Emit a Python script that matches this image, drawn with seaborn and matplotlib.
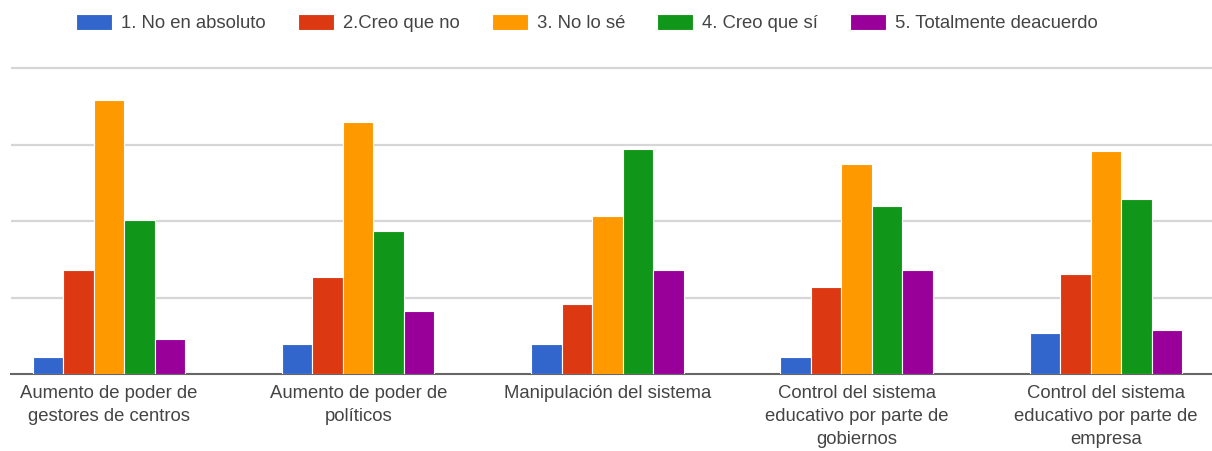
import matplotlib
matplotlib.use("Agg")
import matplotlib.pyplot as plt
import seaborn as sns
import pandas as pd

# Survey items (x categories)
categorias = [
    "Aumento de poder de\ngestores de centros",
    "Aumento de poder de\npolíticos",
    "Manipulación del sistema",
    "Control del sistema\neducativo por parte de\ngobiernos",
    "Control del sistema\neducativo por parte de\nempresa",
]

# Answer options (legend)
respuestas = [
    "1. No en absoluto",
    "2.Creo que no",
    "3. No lo sé",
    "4. Creo que sí",
    "5. Totalmente deacuerdo",
]

# Responses per answer option, one value per item
no_en_absoluto = [2.2, 3.9, 3.9, 2.2, 5.4]
creo_que_no = [13.6, 12.7, 9.1, 11.4, 13.1]
no_lo_se = [35.8, 33.0, 20.6, 27.4, 29.1]
creo_que_si = [20.1, 18.7, 29.4, 21.9, 22.9]
totalmente = [4.6, 8.2, 13.6, 13.6, 5.8]

colores = ["#3366cc", "#dc3912", "#ff9900", "#109618", "#990099"]

series = [no_en_absoluto, creo_que_no, no_lo_se, creo_que_si, totalmente]
df = pd.DataFrame(
    [
        {"categoria": c, "respuesta": r, "valor": v}
        for r, vals in zip(respuestas, series)
        for c, v in zip(categorias, vals)
    ]
)

sns.set_theme(style="white")
plt.rcParams["font.family"] = ["Liberation Sans", "DejaVu Sans"]

W, H = 1212, 451
fig = plt.figure(figsize=(W / 100, H / 100), dpi=100)

# axes placed in pixel terms: left 11, right 1212, baseline 374
px_per_unit = 7.65
ytop = 40.5
ax_bottom_px = 374
ax_top_px = ax_bottom_px - ytop * px_per_unit
ax = fig.add_axes([11 / W, 1 - ax_bottom_px / H, (W - 11) / W, (ax_bottom_px - ax_top_px) / H])

sns.barplot(
    data=df, x="categoria", y="valor", hue="respuesta",
    order=categorias, hue_order=respuestas, palette=colores,
    width=0.612, gap=0, edgecolor="white", linewidth=0.8,
    saturation=1, ax=ax, zorder=3,
)

ax.set_ylim(0, ytop)
group_px = 249.2
center0 = 109
ax.set_xlim((11 - center0) / group_px, (W - center0) / group_px)

ax.set_yticks([10, 20, 30, 40])
ax.set_yticklabels([])
ax.yaxis.grid(True, color="#d6d6d6", linewidth=1.6)
ax.xaxis.grid(False)
ax.set_axisbelow(True)
ax.tick_params(axis="both", length=0)
ax.tick_params(axis="x", pad=7.7, labelsize=13.3, labelcolor="#444444")
for lbl in ax.get_xticklabels():
    lbl.set_linespacing(1.48)
ax.set_xlabel("")
ax.set_ylabel("")
for side in ["top", "left", "right"]:
    ax.spines[side].set_visible(False)
ax.spines["bottom"].set_color("#666666")
ax.spines["bottom"].set_linewidth(1.5)

handles, labels = ax.get_legend_handles_labels()
ax.get_legend().remove()
fig.legend(
    handles, labels, loc="center", bbox_to_anchor=(587 / W, 1 - 23 / H),
    ncol=5, frameon=False, fontsize=13.3, labelcolor="#444444",
    handlelength=1.95, handleheight=0.97, handletextpad=0.49,
    columnspacing=1.73, borderpad=0,
)

fig.savefig("out.png", dpi=100)
